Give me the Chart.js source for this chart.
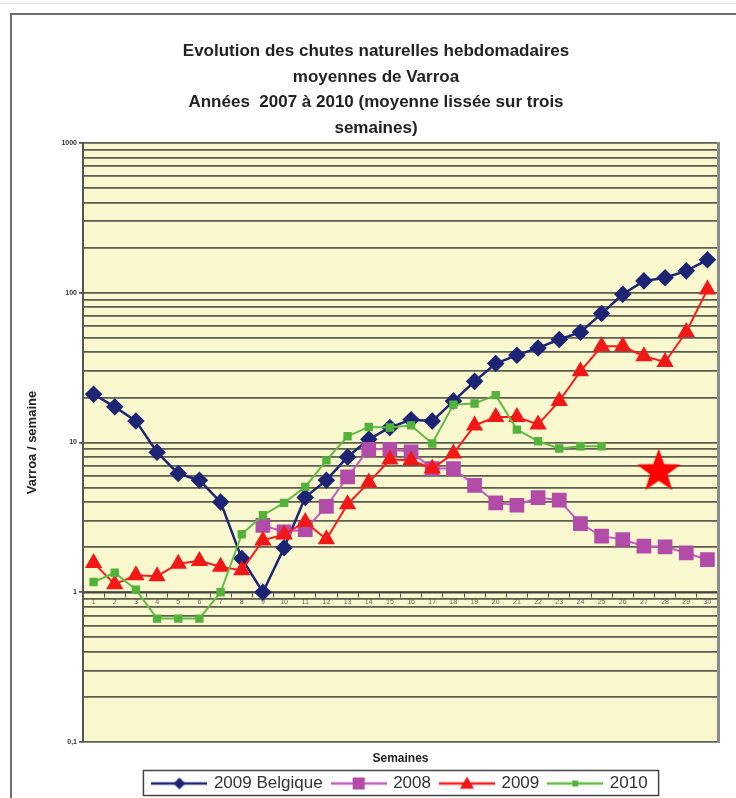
<!DOCTYPE html>
<html lang="fr">
<head>
<meta charset="UTF-8">
<title>Varroa</title>
<script src="https://cdn.jsdelivr.net/npm/chart.js@4.4.1/dist/chart.umd.min.js"></script>
<style>
  html, body { margin: 0; padding: 0; overflow: hidden; background: #fff; }
  .topline { position: absolute; left: 0; top: 3px; width: 736px; height: 1px; background: #e2e2e2; }
  .frame { position: absolute; left: 10px; top: 13px; width: 760px; height: 820px; border: 2px solid #6e6e6e; }
  #chart { position: absolute; left: 0; top: 0; }
</style>
</head>
<body>
<div class="topline"></div>
<div class="frame"></div>
<canvas id="chart" width="736" height="798"></canvas>
<script>
// semaines 1..30
const weeks = ['1','2','3','4','5','6','7','8','9','10','11','12','13','14','15',
               '16','17','18','19','20','21','22','23','24','25','26','27','28','29','30'];

const belgique2009 = [21.0, 17.3, 13.9, 8.6, 6.2, 5.6, 4.0, 1.68, 1.0, 1.98,
                      4.3, 5.6, 8.0, 10.5, 12.6, 14.2, 13.9, 18.9, 25.6, 33.7,
                      38.3, 42.8, 48.7, 54.5, 72.6, 97.7, 120, 126, 140, 166];
const serie2008 = [null, null, null, null, null, null, null, null, 2.80, 2.53,
                   2.62, 3.75, 5.9, 9.0, 9.0, 8.65, 6.7, 6.7, 5.18, 3.95,
                   3.81, 4.29, 4.12, 2.87, 2.37, 2.25, 2.03, 2.01, 1.83, 1.65];
const serie2009 = [1.57, 1.13, 1.30, 1.28, 1.55, 1.62, 1.48, 1.40, 2.22, 2.43,
                   2.95, 2.26, 3.87, 5.4, 7.7, 7.6, 6.7, 8.44, 13.0, 14.8,
                   14.8, 13.2, 18.9, 29.9, 43.9, 43.9, 37.7, 34.5, 54.7, 105];
const serie2010 = [1.17, 1.35, 1.04, 0.667, 0.667, 0.667, 1.0, 2.44, 3.27, 3.95,
                   5.05, 7.6, 11.0, 12.7, 12.6, 13.0, 9.84, 17.9, 18.2, 20.7,
                   12.2, 10.2, 9.12, 9.44, 9.44, null, null, null, null, null];

// étoile rouge ajoutée sur le graphique
const starWeek = [27.7];
const starValue = [6.4];

const yTickValues = [0.1, 1, 10, 100, 1000];
const yTickLabels = ['0,1', '1', '10', '100', '1000'];

// lignes de grille : 1..9 par décade
const gridValues = [];
for (let e = -1; e < 3; e++) {
  for (let m = 1; m < 10; m++) gridValues.push(Number((m * Math.pow(10, e)).toFixed(1)));
}
gridValues.push(1000);

Chart.defaults.font.family = 'Arial, "Liberation Sans", sans-serif';

function makeIcon(lineColor, fillColor, shape, size) {
  const c = document.createElement('canvas');
  c.width = 56; c.height = 18;
  const g = c.getContext('2d');
  g.strokeStyle = lineColor; g.lineWidth = 2.5;
  g.beginPath(); g.moveTo(0, 9); g.lineTo(56, 9); g.stroke();
  g.fillStyle = fillColor;
  g.beginPath();
  if (shape === 'diamond') {
    g.moveTo(28, 9 - size); g.lineTo(28 + size, 9); g.lineTo(28, 9 + size); g.lineTo(28 - size, 9);
  } else if (shape === 'triangle') {
    g.moveTo(28, 9 - size); g.lineTo(28 + size, 9 + size * 0.75); g.lineTo(28 - size, 9 + size * 0.75);
  } else {
    g.rect(28 - size, 9 - size, 2 * size, 2 * size);
  }
  g.closePath(); g.fill();
  return c;
}

function makeStar(r) {
  const c = document.createElement('canvas');
  c.width = c.height = 2 * r + 2;
  const g = c.getContext('2d');
  g.fillStyle = '#ff0000';
  g.beginPath();
  for (let i = 0; i < 10; i++) {
    const rad = i % 2 ? r * 0.4 : r;
    const a = -Math.PI / 2 + i * Math.PI / 5;
    g.lineTo(r + 1 + rad * Math.cos(a), r + 1 + rad * Math.sin(a));
  }
  g.closePath(); g.fill();
  return c;
}

const legendIcons = [
  makeIcon('#1d2474', '#1d2474', 'diamond', 6),
  makeIcon('#c45cbe', '#b34ba9', 'square', 6),
  makeIcon('#ff1a1a', '#f21818', 'triangle', 7),
  makeIcon('#62bb44', '#52b23a', 'square', 3)
];

const plotBackground = {
  id: 'plotBackground',
  beforeDraw(chart) {
    const { ctx, chartArea: a } = chart;
    ctx.save();
    ctx.fillStyle = '#faf8cf';
    ctx.fillRect(a.left, a.top, a.width, a.height);
    ctx.restore();
  }
};

const legendFrame = {
  id: 'legendFrame',
  afterDraw(chart) {
    const boxes = chart.legend.legendHitBoxes;
    if (!boxes || !boxes.length) return;
    const last = boxes[boxes.length - 1];
    const left = boxes[0].left - 10;
    const right = last.left + last.width + 11;
    const cy = boxes[0].top + boxes[0].height / 2;
    const ctx = chart.ctx;
    ctx.save();
    ctx.strokeStyle = '#444';
    ctx.lineWidth = 1.5;
    ctx.strokeRect(left, cy - 13, right - left, 25);
    ctx.restore();
  }
};

new Chart(document.getElementById('chart'), {
  type: 'line',
  data: {
    labels: weeks,
    datasets: [
      { label: '2009 Belgique', data: belgique2009, borderColor: '#1d2474', backgroundColor: '#1d2474',
        pointBorderColor: '#1d2474', borderWidth: 2.5, pointStyle: 'rectRot', pointRadius: 7, order: 4 },
      { label: '2008', data: serie2008, borderColor: '#c45cbe', backgroundColor: '#b34ba9',
        pointBorderColor: '#b34ba9', borderWidth: 2, pointStyle: 'rect', pointRadius: 9, order: 3 },
      { label: '2009', data: serie2009, borderColor: '#ff1a1a', backgroundColor: '#f21818',
        pointBorderColor: '#f21818', borderWidth: 2, pointStyle: 'triangle', pointRadius: 8, order: 2 },
      { label: '2010', data: serie2010, borderColor: '#62bb44', backgroundColor: '#52b23a',
        pointBorderColor: '#52b23a', borderWidth: 2, pointStyle: 'rect', pointRadius: 4.5, order: 1 },
      { label: 'etoile', data: starWeek.map((w, i) => ({ x: w, y: starValue[i] })), xAxisID: 'xs',
        pointStyle: makeStar(23), showLine: false, order: 0 }
    ]
  },
  options: {
    responsive: false,
    animation: false,
    devicePixelRatio: 1,
    layout: { padding: { left: 18, right: 2, top: 0, bottom: -4 } },
    plugins: {
      tooltip: { enabled: false },
      title: {
        display: true,
        text: ['Evolution des chutes naturelles hebdomadaires', 'moyennes de Varroa',
               'Années  2007 à 2010 (moyenne lissée sur trois', 'semaines)'],
        color: '#222',
        font: { size: 17, weight: 'bold', lineHeight: 1.5 },
        padding: { top: 39, bottom: 2 }
      },
      subtitle: {
        display: true,
        text: 'Semaines',
        position: 'bottom',
        fullSize: false,
        weight: 500,
        color: '#222',
        font: { size: 12, weight: 'bold', lineHeight: 1 },
        padding: { top: 11, bottom: 0 }
      },
      legend: {
        position: 'bottom',
        fullSize: false,
        labels: {
          usePointStyle: true,
          pointStyleWidth: 52,
          padding: 10,
          color: '#333',
          font: { size: 17 },
          sort: (a, b) => a.datasetIndex - b.datasetIndex,
          generateLabels: chart => Chart.defaults.plugins.legend.labels.generateLabels(chart)
            .filter(l => l.datasetIndex < 4)
            .map(l => Object.assign(l, { pointStyle: legendIcons[l.datasetIndex], lineWidth: 0 }))
        }
      }
    },
    scales: {
      x: {
        type: 'category',
        position: { y: 1 },
        offset: true,
        grid: { offset: true, drawOnChartArea: false, tickLength: 4, color: '#555', lineWidth: 1 },
        border: { color: '#444', width: 1.5 },
        ticks: { autoSkip: false, maxRotation: 0, color: '#666', font: { size: 7 }, padding: 2 }
      },
      xs: { type: 'linear', display: false, min: 0.5, max: 30.5 },
      y: {
        type: 'logarithmic',
        position: 'left',
        min: 0.1,
        max: 1000,
        afterBuildTicks: s => { s.ticks = gridValues.map(v => ({ value: v })); },
        afterFit: s => { s.width = 65; },
        ticks: {
          autoSkip: false,
          color: '#333',
          font: { size: 7, weight: 'bold' },
          padding: 2,
          callback: v => { const i = yTickValues.indexOf(v); return i >= 0 ? yTickLabels[i] : ''; }
        },
        grid: {
          color: '#5d5d50',
          lineWidth: 1.8,
          tickLength: 4,
          tickColor: c => (c.tick && yTickValues.includes(c.tick.value)) ? '#555' : 'rgba(0,0,0,0)'
        },
        border: { color: '#555', width: 2 },
        title: { display: true, text: 'Varroa / semaine', color: '#222',
                 font: { size: 13, weight: 'bold' }, padding: { top: 7, bottom: 0 } }
      },
      yR: {
        type: 'linear',
        position: 'right',
        afterFit: s => { s.width = 16; },
        grid: { drawOnChartArea: false, drawTicks: false, color: 'rgba(0,0,0,0)' },
        ticks: { display: false },
        border: { color: '#8c8c8c', width: 3 }
      }
    }
  },
  plugins: [plotBackground, legendFrame]
});
</script>
</body>
</html>
